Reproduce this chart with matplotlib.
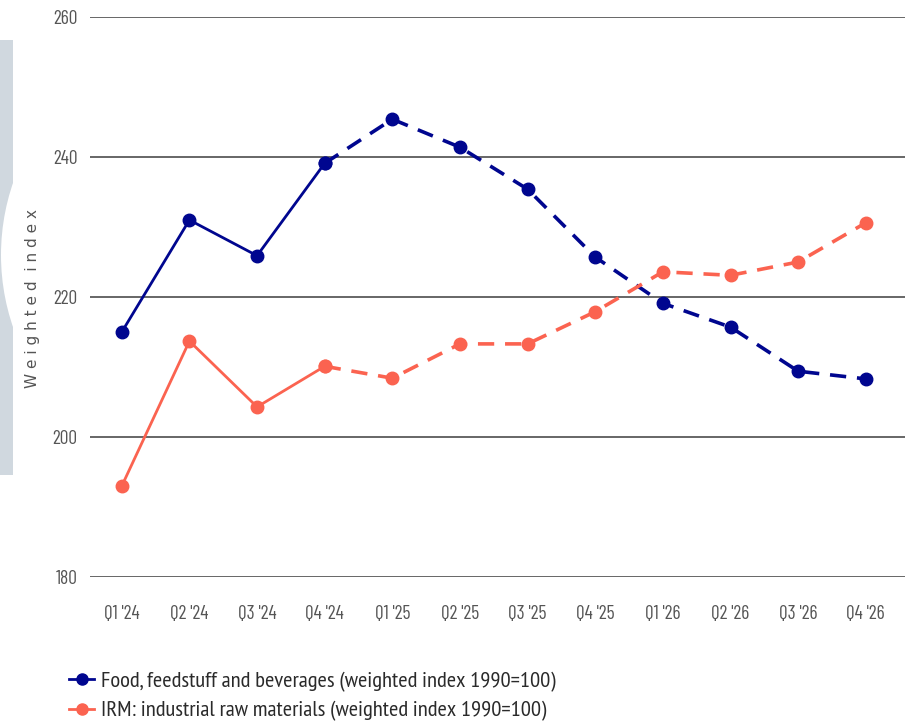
import matplotlib.pyplot as plt
from matplotlib.lines import Line2D
from matplotlib.patches import Rectangle, Circle

quarters = ["Q1 '24", "Q2 '24", "Q3 '24", "Q4 '24", "Q1 '25", "Q2 '25",
            "Q3 '25", "Q4 '25", "Q1 '26", "Q2 '26", "Q3 '26", "Q4 '26"]
food = [215.0, 231.0, 225.9, 239.1, 245.4, 241.4, 235.4, 225.7, 219.1, 215.7, 209.4, 208.3]
irm = [193.0, 213.7, 204.3, 210.1, 208.4, 213.3, 213.3, 217.9, 223.6, 223.1, 225.0, 230.6]
n_actual = 4  # Q1'24..Q4'24 solid, rest forecast (dashed)

navy = '#00068f'
coral = '#fb6350'
tick_font = ['Barlow Condensed', 'DejaVu Sans']
leg_font = ['PT Sans Narrow', 'DejaVu Sans']

fig = plt.figure(figsize=(9.05, 7.21), dpi=100)

# faint watermark shape at the left edge
bg = fig.add_axes([0, 0, 1, 1])
bg.set_xlim(0, 905)
bg.set_ylim(721, 0)
bg.axis('off')
bg.add_patch(Rectangle((0, 40), 13, 435, color='#d0d8df', lw=0))
bg.add_patch(Circle((223, 255), 222, color='white', lw=0))

ax = fig.add_axes([90 / 905, 1 - 577 / 721, 815 / 905, 560 / 721])
ax.patch.set_alpha(0)
x = range(len(quarters))
for vals, col in [(food, navy), (irm, coral)]:
    ax.plot(x[:n_actual], vals[:n_actual], color=col, lw=2, marker='o', ms=9, zorder=3)
    ax.plot(x[n_actual - 1:], vals[n_actual - 1:], color=col, lw=2.6, ls=(0, (4.5, 3)),
            marker='o', ms=9, zorder=3)

ax.set_ylim(180, 260)
ax.set_xlim(-0.47, 11.58)
ax.set_yticks([180, 200, 220, 240, 260])
ax.set_xticks(list(x))
ax.set_xticklabels(quarters)
ax.grid(axis='y', color='#5a5a5a', lw=1.3)
ax.set_axisbelow(True)
for s in ax.spines.values():
    s.set_visible(False)
ax.tick_params(length=0, colors='#555555', labelsize=14)
ax.tick_params(axis='y', pad=9)
ax.tick_params(axis='x', pad=20)
for lbl in ax.get_xticklabels() + ax.get_yticklabels():
    lbl.set_family(tick_font)

fig.text(33 / 905, 1 - 298 / 721, 'W e i g h t e d  i n d e x', rotation=90,
         ha='center', va='center', color='#555555', fontsize=11, family='DejaVu Sans')

handles = [Line2D([], [], color=navy, lw=2, marker='o', ms=8),
           Line2D([], [], color=coral, lw=2, marker='o', ms=8)]
labels = ['Food, feedstuff and beverages (weighted index 1990=100)',
          'IRM: industrial raw materials (weighted index 1990=100)']
fig.legend(handles, labels, loc='upper left', bbox_to_anchor=(58 / 905, 1 - 660 / 721),
           frameon=False, handlelength=1.1, handletextpad=0.3, labelspacing=0.4,
           borderpad=0, prop={'family': leg_font, 'size': 16.2},
           labelcolor='#2a2a2a')

fig.savefig('out.png', dpi=100)
